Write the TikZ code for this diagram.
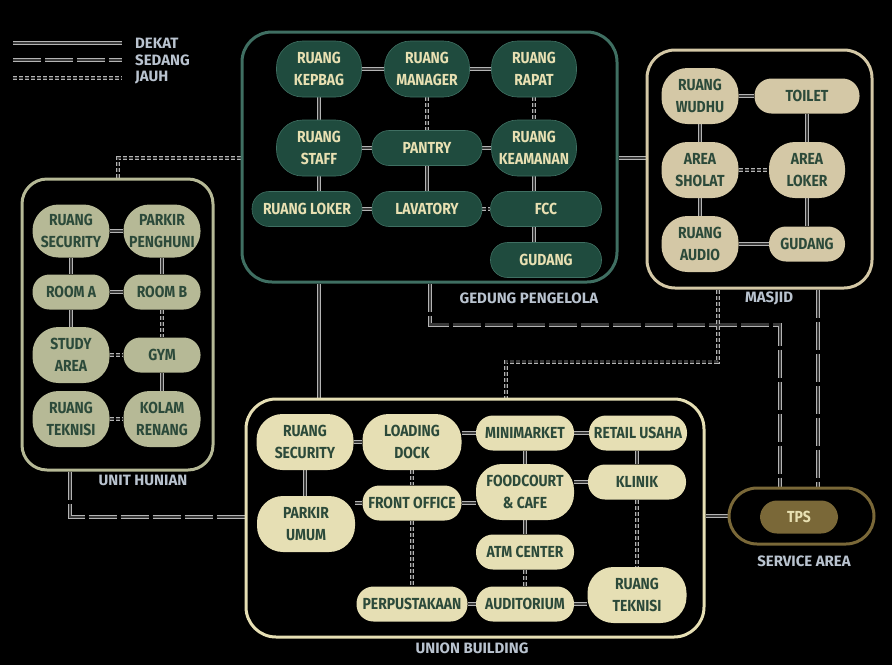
\documentclass[tikz,border=0pt]{standalone}
\usepackage{fontspec}
\usepackage{tikz}
\usetikzlibrary{
  calc,
  positioning,
  backgrounds
}
\setmainfont{Fira Sans}
\newfontfamily\roomfont{Fira Sans}[FakeStretch=0.87]

\definecolor{gpfill}{HTML}{1F4B3E}
\definecolor{gpline}{HTML}{3F6F62}
\definecolor{gptext}{HTML}{E8E0B2}
\definecolor{cream}{HTML}{E6DFB4}
\definecolor{beige}{HTML}{D4C8A6}
\definecolor{sage}{HTML}{B6B996}
\definecolor{olive}{HTML}{7A6838}
\definecolor{inktext}{HTML}{2C4A3A}
\definecolor{lblgray}{HTML}{B9C3CF}
\definecolor{lineout}{HTML}{B4B4B4}
\definecolor{linein}{HTML}{383838}

\tikzset{
  room/.style={rounded corners=17pt, minimum height=35pt, inner sep=0pt,
    align=center, font=\roomfont\bfseries\fontsize{16}{22}\selectfont},
  tall/.style={minimum height=56pt, rounded corners=26pt},
  gp/.style={room, fill=gpfill, draw=gpline, line width=0.6pt, text=gptext},
  mj/.style={room, fill=beige, text=inktext},
  uh/.style={room, fill=sage, text=inktext},
  ub/.style={room, fill=cream, text=inktext},
  cluster/.style={draw=#1, line width=3pt, rounded corners=28pt, inner sep=0pt},
  grouplabel/.style={font=\bfseries\fontsize{15}{15}\selectfont, text=lblgray, inner sep=0pt},
  dekat/.style={draw=lineout, double=linein, double distance=2.6pt, line width=0.7pt},
  sedang/.style={dekat, dash pattern=on 28pt off 4pt},
  jauh/.style={dekat, dash pattern=on 4pt off 2pt}
}

\begin{document}
\begin{tikzpicture}[x=1pt, y=-1pt]
  \useasboundingbox (0,0) rectangle (892,665);

  % legend
  \coordinate (dk1) at (13,43);
  \coordinate (dk2) at (122,43);
  \coordinate (sd1) at (13,60);
  \coordinate (sd2) at (122,60);
  \coordinate (jh1) at (13,78);
  \coordinate (jh2) at (122,78);
  \node[grouplabel, anchor=west] (ldekat) at (135,43) {DEKAT};
  \node[grouplabel, anchor=west] (lsedang) at (135,60) {SEDANG};
  \node[grouplabel, anchor=west] (ljauh) at (135,78) {JAUH};

  % clusters
  \node[cluster=gpline, minimum width=375pt, minimum height=250pt, rounded corners=30pt] (gedung) at (429.5,157) {};
  \node[cluster=beige, minimum width=225pt, minimum height=238pt] (masjid) at (759.5,169) {};
  \node[cluster=sage, minimum width=191pt, minimum height=291pt, rounded corners=25pt] (hunian) at (117.5,324.5) {};
  \node[cluster=cream, minimum width=458pt, minimum height=238pt, rounded corners=30pt] (union) at (475,518) {};
  \node[cluster=olive, minimum width=145pt, minimum height=56pt] (service) at (801.5,516) {};

  \node[grouplabel] (lgedung) at (529,298) {GEDUNG PENGELOLA};
  \node[grouplabel] (lmasjid) at (769,298) {MASJID};
  \node[grouplabel] (lhunian) at (143,480) {UNIT HUNIAN};
  \node[grouplabel] (lunion) at (472,648) {UNION BUILDING};
  \node[grouplabel] (lservice) at (804,561) {SERVICE AREA};

  % gedung pengelola
  \node[gp, tall, minimum width=85pt] (kepbag) at (319,69) {RUANG\\KEPBAG};
  \node[gp, tall, minimum width=85pt] (manager) at (427,69) {RUANG\\MANAGER};
  \node[gp, tall, minimum width=85pt] (rapat) at (534,69) {RUANG\\RAPAT};
  \node[gp, tall, minimum width=85pt] (staff) at (319,148) {RUANG\\STAFF};
  \node[gp, minimum width=110pt] (pantry) at (427,148) {PANTRY};
  \node[gp, tall, minimum width=85pt] (keamanan) at (534,148) {RUANG\\KEAMANAN};
  \node[gp, minimum width=110pt] (lokerG) at (307,209) {RUANG LOKER};
  \node[gp, minimum width=110pt] (lavatory) at (427,209) {LAVATORY};
  \node[gp, minimum width=111pt] (fcc) at (546,209) {FCC};
  \node[gp, minimum width=111pt] (gudangG) at (546,260) {GUDANG};

  % masjid
  \node[mj, tall, minimum width=77pt] (wudhu) at (700,96) {RUANG\\WUDHU};
  \node[mj, minimum width=105pt] (toilet) at (807,96) {TOILET};
  \node[mj, tall, minimum width=77pt] (sholat) at (700,170) {AREA\\SHOLAT};
  \node[mj, tall, minimum width=76pt] (lokerM) at (807,170) {AREA\\LOKER};
  \node[mj, tall, minimum width=77pt] (audio) at (700,244) {RUANG\\AUDIO};
  \node[mj, minimum width=76pt] (gudangM) at (807,244) {GUDANG};

  % unit hunian
  \node[uh, tall, minimum width=77pt, minimum height=53pt] (secH) at (71,231) {RUANG\\SECURITY};
  \node[uh, tall, minimum width=77pt, minimum height=53pt] (parkirH) at (162,231) {PARKIR\\PENGHUNI};
  \node[uh, minimum width=77pt] (roomA) at (71,292) {ROOM A};
  \node[uh, minimum width=77pt] (roomB) at (162,292) {ROOM B};
  \node[uh, tall, minimum width=77pt] (study) at (71,355) {STUDY\\AREA};
  \node[uh, minimum width=77pt] (gym) at (162,355) {GYM};
  \node[uh, tall, minimum width=77pt] (teknisiH) at (71,419) {RUANG\\TEKNISI};
  \node[uh, tall, minimum width=77pt] (kolam) at (162,419) {KOLAM\\RENANG};

  % union building
  \node[ub, tall, minimum width=97pt] (secU) at (305,442) {RUANG\\SECURITY};
  \node[ub, tall, minimum width=99pt] (loading) at (412,442) {LOADING\\DOCK};
  \node[ub, minimum width=98pt] (mini) at (525,433) {MINIMARKET};
  \node[ub, minimum width=98pt] (retail) at (638,433) {RETAIL USAHA};
  \node[ub, tall, minimum width=98pt] (food) at (525,492) {FOODCOURT\\\& CAFE};
  \node[ub, minimum width=98pt] (klinik) at (637,482) {KLINIK};
  \node[ub, tall, minimum width=98pt] (parkirU) at (306,524) {PARKIR\\UMUM};
  \node[ub, minimum width=99pt] (front) at (412,503) {FRONT OFFICE};
  \node[ub, minimum width=98pt] (atm) at (525,552) {ATM CENTER};
  \node[ub, minimum width=111pt] (perpus) at (412,604) {PERPUSTAKAAN};
  \node[ub, minimum width=98pt] (audit) at (525,604) {AUDITORIUM};
  \node[ub, tall, minimum width=99pt] (teknisiU) at (637,595) {RUANG\\TEKNISI};

  % service area
  \node[room, fill=olive, text=gptext, minimum width=78pt, minimum height=33pt] (tps) at (799,517) {TPS};

  \begin{pgfonlayer}{background}
    \fill[black] (0,0) rectangle (892,665);
    \draw[dekat] (dk1) -- (dk2);
    \draw[sedang] (sd1) -- (sd2);
    \draw[jauh] (jh1) -- (jh2);

    % between buildings
    \draw[jauh] (hunian.north -| 118,0) |- (gedung.west |- 0,158);
    \draw[sedang] (hunian.south -| 70,0) |- (union.west |- 0,517);
    \draw[dekat] (gedung.south -| kepbag) -- (union.north -| kepbag);
    \draw[sedang] (gedung.south -| 430,0) -- ++(0,41) -| (service.north -| 780,0);
    \draw[jauh] (masjid.south -| 718,0) -- ++(0,72) -| (union.north -| 506,0);
    \draw[sedang] (masjid.south -| 818,0) -- (service.north -| 818,0);
    \draw[sedang] (gedung.east |- 0,158) -- (masjid.west |- 0,158);
    \draw[dekat] (union.east |- service.west) -- (service.west);

    % gedung pengelola
    \draw[dekat] (kepbag) -- (manager);
    \draw[dekat] (manager) -- (rapat);
    \draw[dekat] (kepbag) -- (staff);
    \draw[jauh] (manager) -- (pantry);
    \draw[jauh] (rapat) -- (keamanan);
    \draw[dekat] (staff) -- (pantry);
    \draw[dekat] (pantry) -- (keamanan);
    \draw[dekat] (staff) -- (staff |- lokerG.north);
    \draw[dekat] (pantry) -- (lavatory);
    \draw[dekat] (lokerG) -- (lavatory);
    \draw[jauh] (lavatory) -- (fcc);
    \draw[sedang] (keamanan) -- (keamanan |- fcc.north);
    \draw[dekat] (fcc.south -| keamanan) -- (gudangG.north -| keamanan);

    % masjid
    \draw[dekat] (wudhu) -- (toilet);
    \draw[dekat] (wudhu) -- (sholat);
    \draw[jauh] (sholat) -- (lokerM);
    \draw[dekat] (toilet) -- (lokerM);
    \draw[dekat] (sholat) -- (audio);
    \draw[sedang] (lokerM) -- (gudangM);
    \draw[dekat] (audio) -- (gudangM);

    % unit hunian
    \draw[dekat] (secH) -- (parkirH);
    \draw[sedang] (secH) -- (roomA);
    \draw[dekat] (parkirH) -- (roomB);
    \draw[dekat] (roomA) -- (roomB);
    \draw[dekat] (roomA) -- (study);
    \draw[jauh] (roomB) -- (gym);
    \draw[jauh] (study) -- (gym);
    \draw[dekat] (gym) -- (kolam);
    \draw[jauh] (teknisiH) -- (kolam);

    % union building
    \draw[dekat] (secU) -- (loading);
    \draw[dekat] (secU) -- (secU |- parkirU.north);
    \draw[sedang] (loading.east |- mini) -- (mini);
    \draw[dekat] (mini) -- (retail);
    \draw[jauh] (loading) -- (front);
    \draw[dekat] (mini) -- (food);
    \draw[dekat] (retail.south -| klinik) -- (klinik);
    \draw[dekat] (parkirU.east |- front) -- (front);
    \draw[dekat] (front) -- (food.west |- front);
    \draw[sedang] (food.east |- klinik) -- (klinik);
    \draw[dekat] (food) -- (atm);
    \draw[jauh] (front) -- (perpus);
    \draw[jauh] (atm) -- (audit);
    \draw[jauh] (klinik) -- (teknisiU);
    \draw[dekat] (perpus) -- (audit);
    \draw[sedang] (audit) -- (audit -| teknisiU.west);
  \end{pgfonlayer}
\end{tikzpicture}
\end{document}
